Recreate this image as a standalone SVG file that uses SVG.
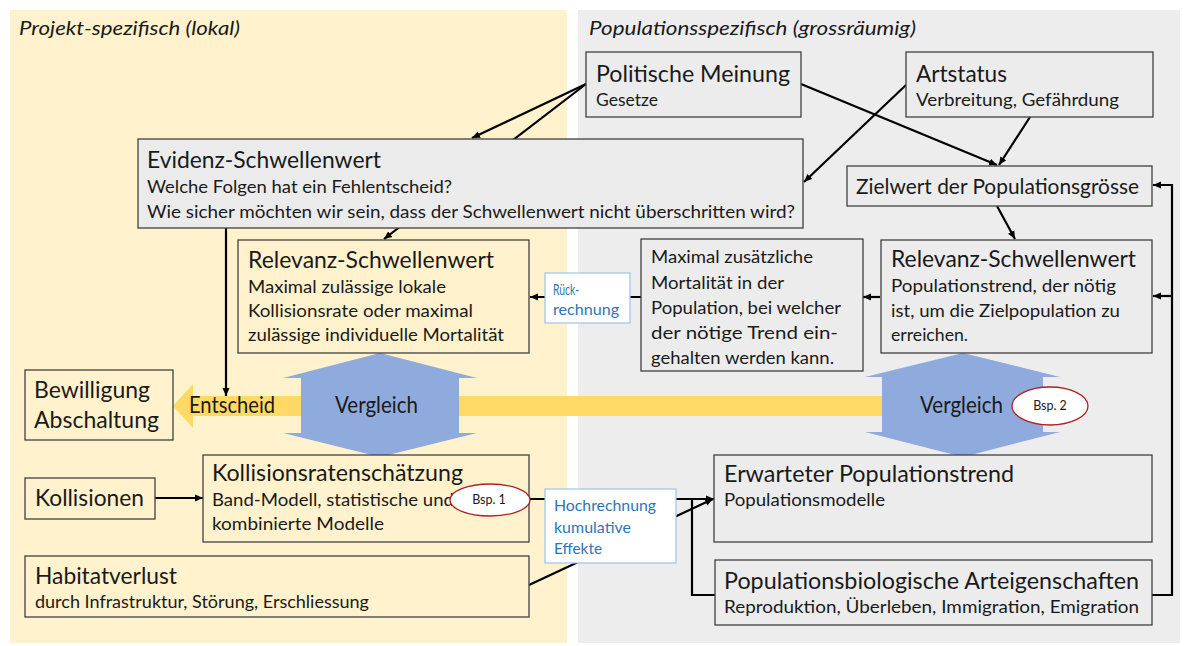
<svg xmlns="http://www.w3.org/2000/svg" width="1189" height="646" viewBox="0 0 1189 646">
<style>
text{font-family:Lato,"Liberation Sans",sans-serif;fill:#1a1a1a}
.t{font-size:24px}
.b{font-size:18px}
.s{font-size:17px}
.it{font-size:20px;font-style:italic}
.bl{font-size:16px;fill:#2e75b6}
.bsp{font-size:12.5px}
.box{stroke:#404040;stroke-width:1.3}
.g{fill:#ececec}
.y{fill:#fff2cc}
.w{fill:#ffffff;stroke:#9dc3e6;stroke-width:1.2}
.c{fill:none;stroke:#000;stroke-width:2.2}
.ell{fill:#fff;stroke:#b02020;stroke-width:1.3}
.blue{fill:#8faadc}
</style>
<defs>
<marker id="ah" markerUnits="userSpaceOnUse" markerWidth="9" markerHeight="8" refX="8" refY="4" orient="auto">
<path d="M0,0.5 L8,4 L0,7.5 Z" fill="#000"/>
</marker>
</defs>
<g id="panels">
<rect x="10" y="10" width="557" height="633" fill="#fff2cc"/>
<rect x="578" y="10" width="602" height="633" fill="#ededed"/>
<text class="it" x="19" y="35" textLength="221" lengthAdjust="spacingAndGlyphs">Projekt-spezifisch (lokal)</text>
<text class="it" x="589" y="35" textLength="327" lengthAdjust="spacingAndGlyphs">Populationsspezifisch (grossräumig)</text>
</g>
<g id="entscheid">
<rect x="191" y="396" width="694" height="20" fill="#ffd966"/>
<polygon points="173,406 193,384 193,428" fill="#ffd966"/>
<text class="t" x="189" y="413" textLength="86" lengthAdjust="spacingAndGlyphs">Entscheid</text>
</g>
<g id="connectors">
<path class="c" d="M586,84 L472,138" marker-end="url(#ah)"/>
<path class="c" d="M586,84 L384,239" marker-end="url(#ah)"/>
<path class="c" d="M906,85 L804,182" marker-end="url(#ah)"/>
<path class="c" d="M801,84 L997,165" marker-end="url(#ah)"/>
<path class="c" d="M1030,117 L999,165" marker-end="url(#ah)"/>
<path class="c" d="M997,206 L1015,239" marker-end="url(#ah)"/>
<path class="c" d="M880,297 L863,297" marker-end="url(#ah)"/>
<path class="c" d="M641,297 L530,297" marker-end="url(#ah)"/>
<path class="c" d="M226,228 L226,396" marker-end="url(#ah)"/>
<path class="c" d="M155,498 L203,498" marker-end="url(#ah)"/>
<path class="c" d="M530,499 L714,499" marker-end="url(#ah)"/>
<path class="c" d="M529,585 L713,499" marker-end="url(#ah)"/>
<path class="c" d="M715,595 H692 V499"/>
<path class="c" d="M1152,595 H1172 V185 H1153" marker-end="url(#ah)"/>
<path class="c" d="M1172,296 H1153" marker-end="url(#ah)"/>
</g>
<g id="vergleich-lokal">
<polygon class="blue" points="380,353 477,378 459,378 459,433 477,433 380,457 283,433 301,433 301,378 283,378"/>
<text class="t" x="335" y="413" textLength="83" lengthAdjust="spacingAndGlyphs">Vergleich</text>
</g>
<g id="vergleich-population">
<polygon class="blue" points="963,353 1060,377 1043,377 1043,432 1060,432 963,457 865,432 882,432 882,377 865,377"/>
<text class="t" x="920" y="413" textLength="83" lengthAdjust="spacingAndGlyphs">Vergleich</text>
<ellipse class="ell" cx="1050" cy="406" rx="38" ry="19"/>
<text class="bsp" x="1050" y="410" text-anchor="middle">Bsp. 2</text>
</g>
<g id="politische-meinung">
<rect class="box g" x="586" y="52" width="215" height="65"/>
<text class="t" x="596" y="82" textLength="194" lengthAdjust="spacingAndGlyphs">Politische Meinung</text>
<text class="s" x="596" y="106" textLength="62" lengthAdjust="spacingAndGlyphs">Gesetze</text>
</g>
<g id="artstatus">
<rect class="box g" x="906" y="52" width="247" height="65"/>
<text class="t" x="916" y="82" textLength="91" lengthAdjust="spacingAndGlyphs">Artstatus</text>
<text class="s" x="916" y="106" textLength="203" lengthAdjust="spacingAndGlyphs">Verbreitung, Gefährdung</text>
</g>
<g id="evidenz">
<rect class="box" x="138" y="139" width="665" height="89" fill="#ebebeb"/>
<text class="t" x="147" y="168" textLength="234" lengthAdjust="spacingAndGlyphs">Evidenz-Schwellenwert</text>
<text class="b" x="147" y="193" textLength="305" lengthAdjust="spacingAndGlyphs">Welche Folgen hat ein Fehlentscheid?</text>
<text class="b" x="147" y="218" textLength="648" lengthAdjust="spacingAndGlyphs">Wie sicher möchten wir sein, dass der Schwellenwert nicht überschritten wird?</text>
</g>
<g id="zielwert">
<rect class="box g" x="847" y="166" width="305" height="40"/>
<text x="856" y="194" style="font-size:22px" textLength="283" lengthAdjust="spacingAndGlyphs">Zielwert der Populationsgrösse</text>
</g>
<g id="relevanz-lokal">
<rect class="box y" x="238" y="240" width="291" height="113"/>
<text class="t" x="248" y="268" textLength="246" lengthAdjust="spacingAndGlyphs">Relevanz-Schwellenwert</text>
<text class="b" x="248" y="293" textLength="198" lengthAdjust="spacingAndGlyphs">Maximal zulässige lokale</text>
<text class="b" x="248" y="317" textLength="225" lengthAdjust="spacingAndGlyphs">Kollisionsrate oder maximal</text>
<text class="b" x="248" y="341" textLength="256" lengthAdjust="spacingAndGlyphs">zulässige individuelle Mortalität</text>
</g>
<g id="rueckrechnung">
<rect class="w" x="545" y="273" width="85" height="50"/>
<text class="bl" x="553" y="295" textLength="26" lengthAdjust="spacingAndGlyphs">Rück-</text>
<text class="bl" x="553" y="315" textLength="66" lengthAdjust="spacingAndGlyphs">rechnung</text>
</g>
<g id="maximal-mortalitaet">
<rect class="box g" x="641" y="239" width="222" height="132"/>
<text class="b" x="651" y="263" textLength="162" lengthAdjust="spacingAndGlyphs">Maximal zusätzliche</text>
<text class="b" x="651" y="289" textLength="133" lengthAdjust="spacingAndGlyphs">Mortalität in der</text>
<text class="b" x="651" y="314" textLength="190" lengthAdjust="spacingAndGlyphs">Population, bei welcher</text>
<text class="b" x="651" y="339" textLength="187" lengthAdjust="spacingAndGlyphs">der nötige Trend ein-</text>
<text class="b" x="651" y="364" textLength="183" lengthAdjust="spacingAndGlyphs">gehalten werden kann.</text>
</g>
<g id="relevanz-population">
<rect class="box g" x="881" y="240" width="271" height="113"/>
<text class="t" x="891" y="267" textLength="245" lengthAdjust="spacingAndGlyphs">Relevanz-Schwellenwert</text>
<text class="b" x="891" y="292" textLength="225" lengthAdjust="spacingAndGlyphs">Populationstrend, der nötig</text>
<text class="b" x="891" y="317" textLength="229" lengthAdjust="spacingAndGlyphs">ist, um die Zielpopulation zu</text>
<text class="b" x="891" y="341" textLength="77" lengthAdjust="spacingAndGlyphs">erreichen.</text>
</g>
<g id="bewilligung">
<rect class="box y" x="25" y="370" width="148" height="70"/>
<text class="t" x="34" y="398" textLength="116" lengthAdjust="spacingAndGlyphs">Bewilligung</text>
<text class="t" x="34" y="428" textLength="125" lengthAdjust="spacingAndGlyphs">Abschaltung</text>
</g>
<g id="kollisionen">
<rect class="box y" x="25" y="478" width="130" height="41"/>
<text class="t" x="35" y="506" textLength="109" lengthAdjust="spacingAndGlyphs">Kollisionen</text>
</g>
<g id="kollisionsratenschaetzung">
<rect class="box y" x="203" y="455" width="326" height="87"/>
<text class="t" x="212" y="481" textLength="251" lengthAdjust="spacingAndGlyphs">Kollisionsratenschätzung</text>
<text class="b" x="212" y="506" textLength="242" lengthAdjust="spacingAndGlyphs">Band-Modell, statistische und</text>
<text class="b" x="212" y="530" textLength="172" lengthAdjust="spacingAndGlyphs">kombinierte Modelle</text>
<ellipse class="ell" cx="490" cy="500" rx="40" ry="16"/>
<text class="bsp" x="489" y="504" text-anchor="middle">Bsp. 1</text>
</g>
<g id="habitatverlust">
<rect class="box y" x="25" y="556" width="504" height="61"/>
<text class="t" x="35" y="584" textLength="142" lengthAdjust="spacingAndGlyphs">Habitatverlust</text>
<text class="s" x="35" y="608" textLength="334" lengthAdjust="spacingAndGlyphs">durch Infrastruktur, Störung, Erschliessung</text>
</g>
<g id="hochrechnung">
<rect class="w" x="545" y="489" width="131" height="74"/>
<text class="bl" x="554" y="511" textLength="102" lengthAdjust="spacingAndGlyphs">Hochrechnung</text>
<text class="bl" x="554" y="533" textLength="77" lengthAdjust="spacingAndGlyphs">kumulative</text>
<text class="bl" x="554" y="554" textLength="48" lengthAdjust="spacingAndGlyphs">Effekte</text>
</g>
<g id="erwarteter-populationstrend">
<rect class="box g" x="714" y="455" width="438" height="87"/>
<text class="t" x="724" y="482" textLength="290" lengthAdjust="spacingAndGlyphs">Erwarteter Populationstrend</text>
<text class="s" x="724" y="506" textLength="161" lengthAdjust="spacingAndGlyphs">Populationsmodelle</text>
</g>
<g id="populationsbiologie">
<rect class="box g" x="715" y="560" width="437" height="65"/>
<text class="t" x="724" y="589" textLength="415" lengthAdjust="spacingAndGlyphs">Populationsbiologische Arteigenschaften</text>
<text class="s" x="724" y="613" textLength="415" lengthAdjust="spacingAndGlyphs">Reproduktion, Überleben, Immigration, Emigration</text>
</g>
</svg>
